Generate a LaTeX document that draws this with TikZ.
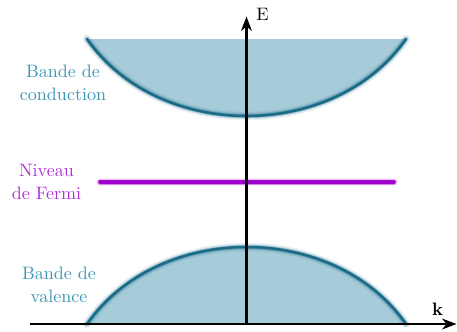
\documentclass[tikz,border=0pt]{standalone}
\usetikzlibrary{arrows.meta}
\definecolor{bandfill}{HTML}{A6CBD9}
\definecolor{bandedge}{HTML}{1A6B87}
\definecolor{bandtext}{HTML}{3D96B5}
\definecolor{fermiline}{HTML}{A000CC}
\definecolor{fermitext}{HTML}{B030D6}
\begin{document}
\begin{tikzpicture}[x=0.555pt,y=-0.555pt,
  lbl/.style={align=center,font=\normalsize},
  axisline/.style={line width=1.3pt,-{Stealth[length=8pt,width=6pt,inset=2.5pt]}},
  condpath/.style={insert path={(87,39) .. controls (158.8,141.7) and (334.2,141.7) .. (406,39)}},
  valpath/.style={insert path={(87,324) .. controls (158.8,221.3) and (334.2,221.3) .. (406,324)}},
  glow/.style={draw=bandedge,line cap=round,line join=round}]
\useasboundingbox (0,0) rectangle (457,331);
% bands
\fill[bandfill, condpath] -- cycle;
\fill[bandfill, valpath] -- cycle;
\foreach \w/\o in {9/0.06,7/0.1,5/0.18,3.5/0.3}{
  \draw[glow, line width=\w*0.555pt, draw opacity=\o, condpath];
  \draw[glow, line width=\w*0.555pt, draw opacity=\o, valpath];
}
\draw[glow, line width=1.4pt, condpath];
\draw[glow, line width=1.4pt, valpath];
% Fermi level
\coordinate (f1) at (100,182);
\coordinate (f2) at (394,182);
\foreach \w/\o in {8/0.08,6.5/0.15,5/0.3}{
  \draw[fermiline, line cap=round, line width=\w*0.555pt, draw opacity=\o] (f1) -- (f2);
}
\draw[fermiline, line cap=round, line width=1.9pt] (f1) -- (f2);
% axes
\coordinate (xs) at (30,324);
\coordinate (xe) at (456.5,324);
\coordinate (ys) at (246.5,324);
\coordinate (ye) at (246.5,16.5);
\draw[axisline] (xs) -- (xe);
\draw[axisline] (ys) -- (ye);
\node[anchor=base, inner sep=0pt] (E) at (262.5,20) {E};
\node[anchor=base, inner sep=0pt] (k) at (437.7,315.7) {\textbf{k}};
% labels
\node[lbl, text=bandtext] (cond) at (63,82.8) {Bande de\\[1pt]conduction};
\node[lbl, text=fermitext] (fermi) at (46.5,181.9) {Niveau\\[1pt]de Fermi};
\node[lbl, text=bandtext] (val) at (59,284.8) {Bande de\\[1pt]valence};
\end{tikzpicture}
\end{document}
